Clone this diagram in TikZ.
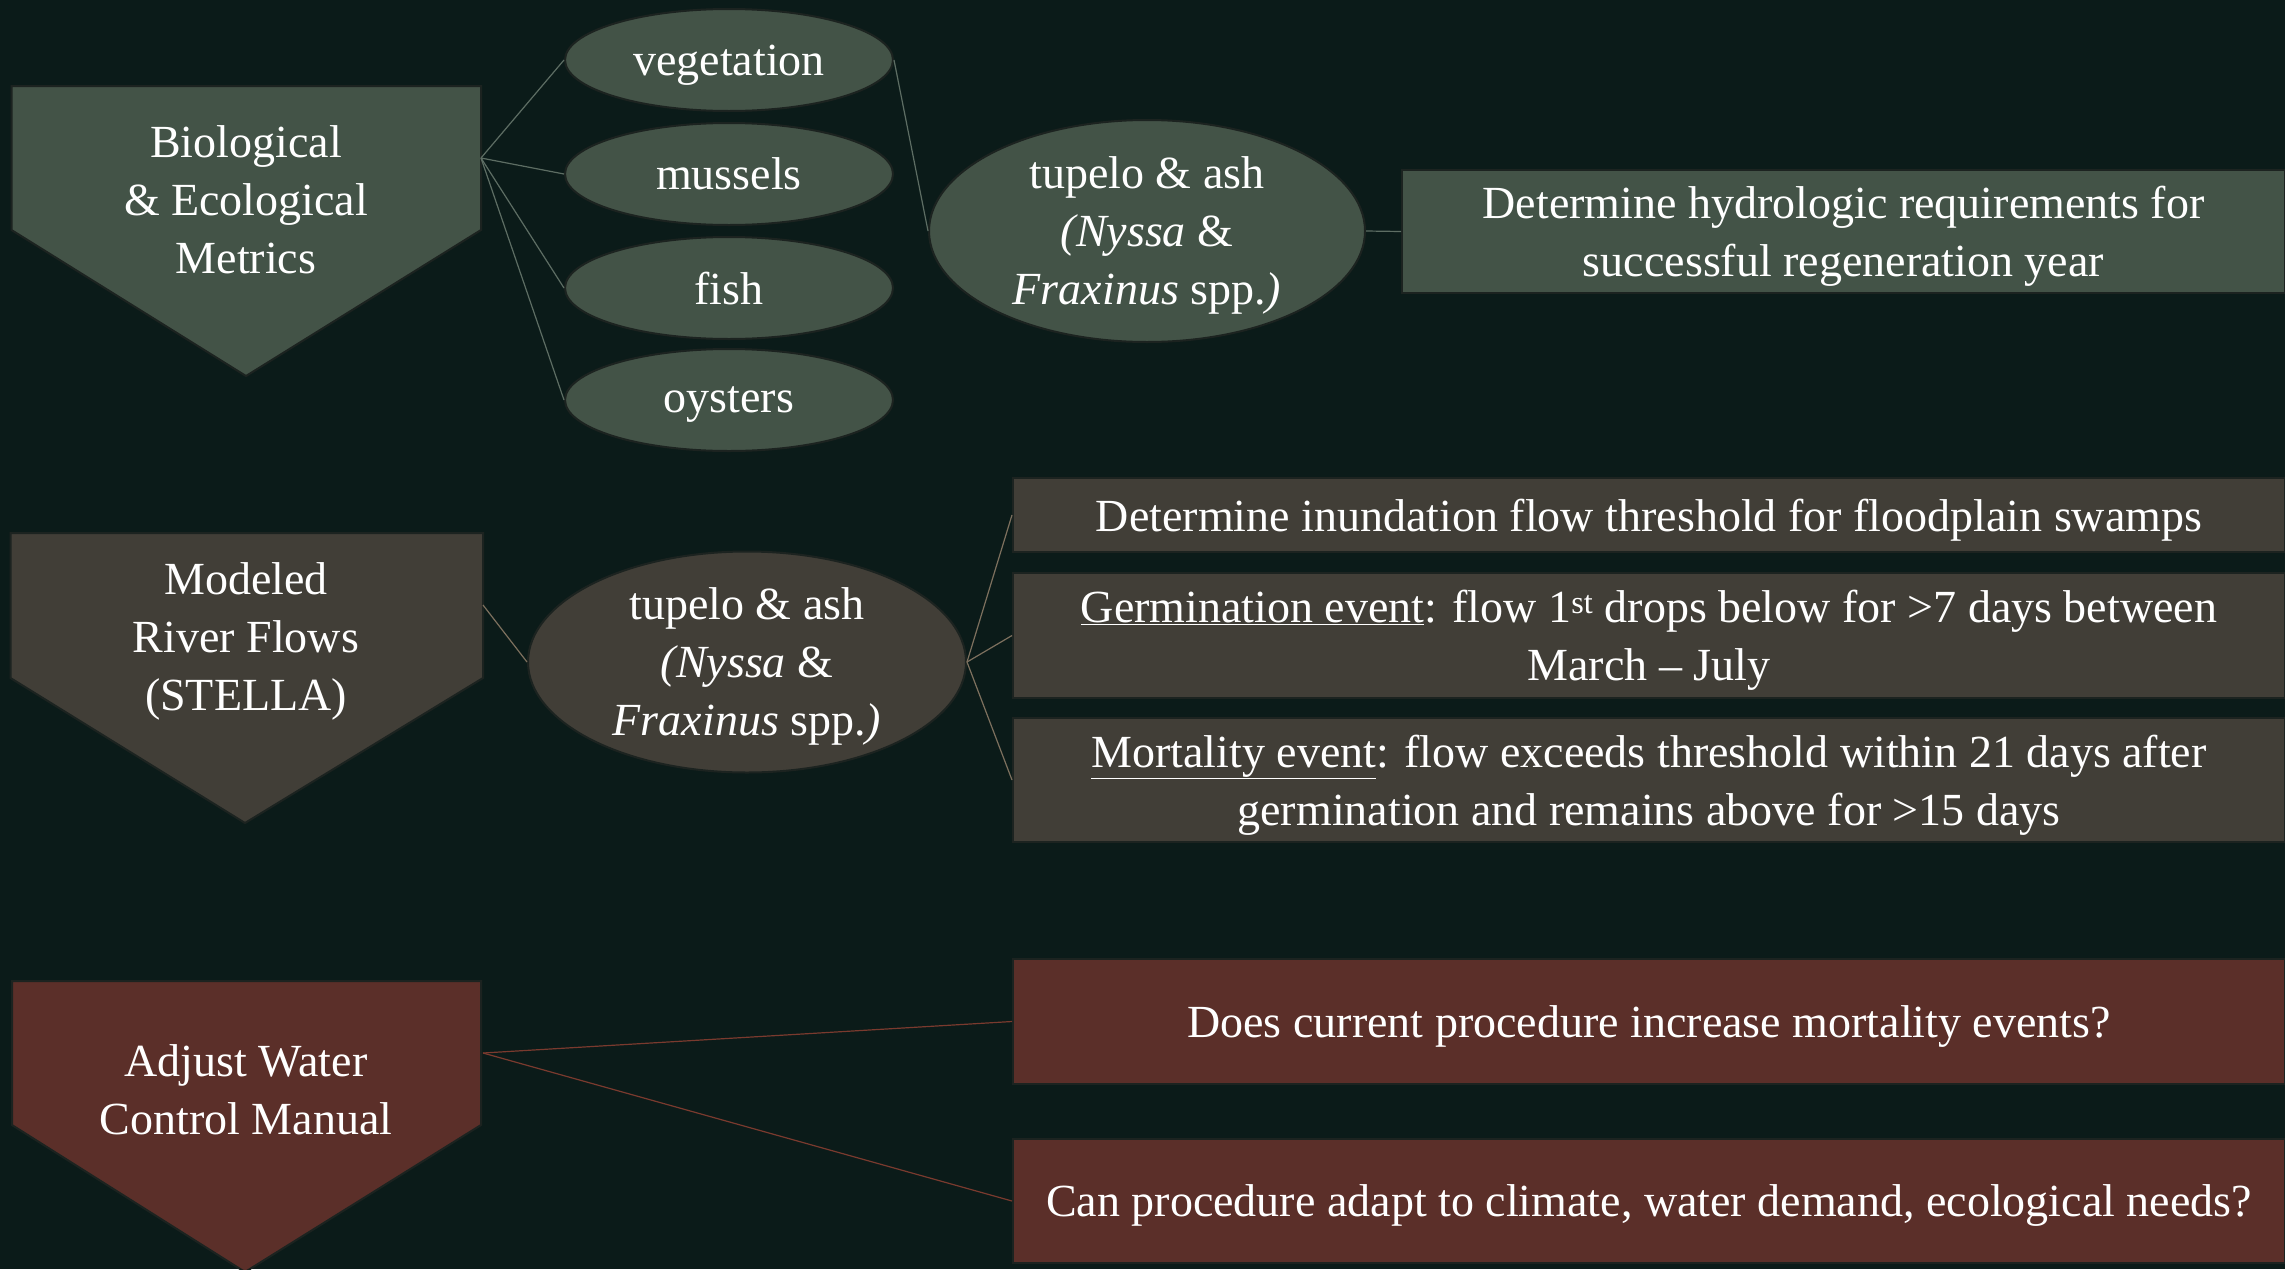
\documentclass[tikz,border=0pt]{standalone}
\usepackage{fontspec}
\setmainfont{Liberation Serif}
\usetikzlibrary{shapes.geometric}
\definecolor{bgc}{HTML}{0B1B19}
\definecolor{grn}{HTML}{435347}
\definecolor{gry}{HTML}{413E37}
\definecolor{redc}{HTML}{5B2F29}
\definecolor{edgec}{HTML}{1C2320}
\definecolor{lgrn}{HTML}{5D6D63}
\definecolor{ltan}{HTML}{7D705E}
\definecolor{lred}{HTML}{7A3A2E}
\tikzset{
  txt/.style={text=white, align=center, inner sep=0pt, text depth=0pt, font=\fontsize{46}{58}\selectfont},
  ell/.style={txt, ellipse, draw=edgec, line width=2pt, minimum width=#1},
  ell/.default=328pt,
  boxn/.style={txt, rectangle, draw=edgec, line width=2pt},
  penta/.style={draw=edgec, line width=2pt},
  conn/.style={line width=1.2pt}
}
\begin{document}
\begin{tikzpicture}[x=1pt,y=-1pt]
\fill[bgc] (0,0) rectangle (2285,1269);
\useasboundingbox (0,0) rectangle (2285,1269);

% ---------- row 1 ----------
\path[penta, fill=grn] (11.5,86) -- (481,86) -- (481,230) -- (246,376) -- (11.5,230) -- cycle;
\coordinate (bio) at (481,158);
\node[txt] (bioT) at (246,200) {Biological\\\& Ecological\\Metrics};

\node[ell, fill=grn, minimum height=102pt] (veg) at (729,60) {vegetation};
\node[ell, fill=grn, minimum height=102pt] (mus) at (729,174) {mussels};
\node[ell, fill=grn, minimum height=102pt] (fish) at (729,288) {fish};
\node[ell, fill=grn, minimum height=102pt] (oys) at (729,400) {oysters};

\node[ell=436pt, fill=grn, minimum height=222pt] (tup1) at (1147,231) {tupelo \& ash\\\textit{(Nyssa} \&\\\textit{Fraxinus} spp.\textit{)}};

\node[boxn, fill=grn, minimum width=883pt, minimum height=123pt] (hyd) at (1843.5,231.5) {Determine hydrologic requirements for\\successful regeneration year};

\draw[conn, lgrn] (bio) -- (veg.west);
\draw[conn, lgrn] (bio) -- (mus.west);
\draw[conn, lgrn] (bio) -- (fish.west);
\draw[conn, lgrn] (bio) -- (oys.west);
\draw[conn, lgrn] (veg.east) -- (tup1.west);
\draw[conn, lgrn] (tup1.east) -- (hyd.west);

% ---------- row 2 ----------
\path[penta, fill=gry] (10.5,533) -- (483,533) -- (483,678) -- (245,823) -- (10.5,678) -- cycle;
\coordinate (mod) at (483,605);
\node[txt] (modT) at (246,637) {Modeled\\River Flows\\(STELLA)};

\node[ell=438pt, fill=gry, minimum height=221pt] (tup2) at (747,662) {tupelo \& ash\\\textit{(Nyssa} \&\\\textit{Fraxinus} spp.\textit{)}};

\node[boxn, fill=gry, minimum width=1272pt, minimum height=74pt] (inu) at (1649,515) {Determine inundation flow threshold for floodplain swamps};
\node[boxn, fill=gry, minimum width=1272pt, minimum height=125pt] (ger) at (1649,635.5) {\underline{Germination event}: flow 1\textsuperscript{st} drops below for >7 days between\\March – July};
\node[boxn, fill=gry, minimum width=1272pt, minimum height=124pt] (mor) at (1649,780) {\underline{Mortality event}: flow exceeds threshold within 21 days after\\germination and remains above for >15 days};

\draw[conn, ltan] (mod) -- (tup2.west);
\draw[conn, ltan] (tup2.east) -- (inu.west);
\draw[conn, ltan] (tup2.east) -- (ger.west);
\draw[conn, ltan] (tup2.east) -- (mor.west);

% ---------- row 3 ----------
\path[penta, fill=redc] (12,981) -- (481,981) -- (481,1125) -- (245,1272) -- (12,1125) -- cycle;
\coordinate (adj) at (483,1053);
\node[txt] (adjT) at (246,1090) {Adjust Water\\Control Manual};

\node[boxn, fill=redc, minimum width=1272pt, minimum height=125pt] (q1) at (1649,1021.5) {Does current procedure increase mortality events?};
\node[boxn, fill=redc, minimum width=1272pt, minimum height=124pt] (q2) at (1649,1201) {Can procedure adapt to climate, water demand, ecological needs?};

\draw[conn, lred] (adj) -- (q1.west);
\draw[conn, lred] (adj) -- (q2.west);
\end{tikzpicture}
\end{document}
